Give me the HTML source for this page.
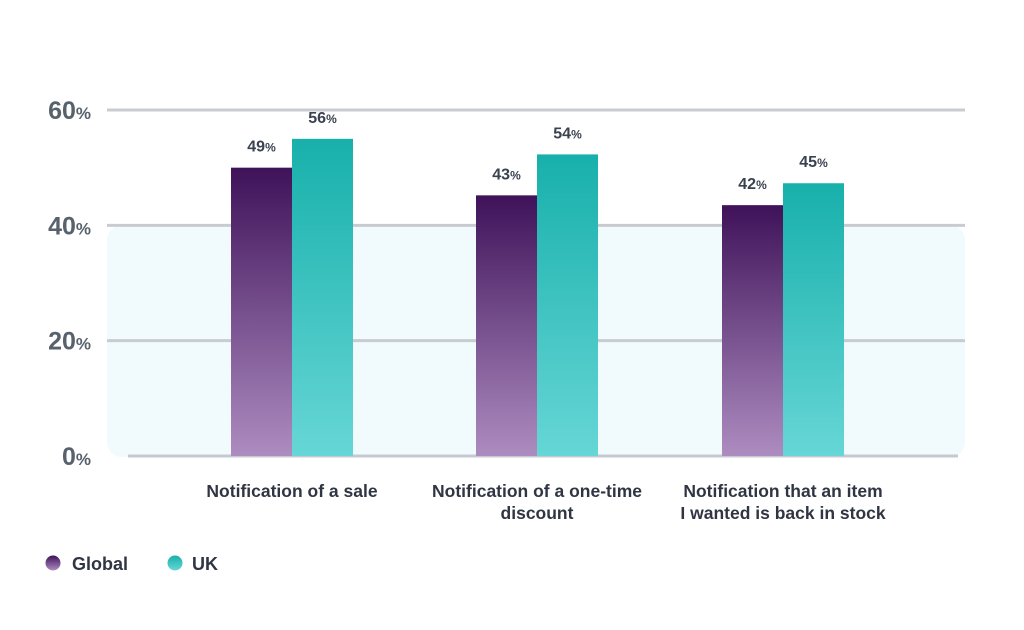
<!DOCTYPE html>
<html><head><meta charset="utf-8"><style>
html,body{margin:0;padding:0;background:#fff;}
svg{display:block;font-family:"Liberation Sans",sans-serif;font-weight:bold;}
</style></head><body>
<svg id="chart" width="1024" height="630" viewBox="0 0 1024 630">
<defs>
<linearGradient id="gG" x1="0" y1="0" x2="0" y2="1"><stop offset="0" stop-color="#3f1259"/><stop offset="1" stop-color="#ad8cc0"/></linearGradient>
<linearGradient id="gU" x1="0" y1="0" x2="0" y2="1"><stop offset="0" stop-color="#18b0ab"/><stop offset="1" stop-color="#66d6d6"/></linearGradient>
</defs>
<rect x="107" y="225" width="858" height="232" rx="15" fill="#f1fafc"/>
<g id="grid"></g>
<g id="bars"></g>
<g id="labels"></g>
<g>
<circle cx="53" cy="563" r="7.5" fill="url(#gG)"/>
<text x="72" y="570" font-size="18" fill="#2f3542">Global</text>
<circle cx="175" cy="563" r="7.5" fill="url(#gU)"/>
<text x="192" y="570" font-size="18" fill="#2f3542">UK</text>
</g>
</svg>
<script>
const categories=[["Notification of a sale"],["Notification of a one-time","discount"],["Notification that an item","I wanted is back in stock"]];
const globalValues=[50,45.2,43.5];
const ukValues=[55,52.3,47.3];
const globalLabels=["49","43","42"];
const ukLabels=["56","54","45"];
const yTicks=[0,20,40,60];

const NS="http://www.w3.org/2000/svg";
const y0=456, pxPer=(456-110)/60;
const yScale=v=>y0-v*pxPer;
const groupCenters=[292,537,783], barW=61;
function mk(tag,attrs,parent){const e=document.createElementNS(NS,tag);for(const k in attrs)e.setAttribute(k,attrs[k]);parent.appendChild(e);return e;}
const grid=document.getElementById('grid'),bars=document.getElementById('bars'),labels=document.getElementById('labels');
yTicks.forEach(t=>{
  const y=yScale(t);
  const l=mk('line',t===0?{x1:128,x2:958,y1:y,y2:y,stroke:"#c5cad0","stroke-width":3}:{x1:107,x2:965,y1:y,y2:y,stroke:"#c8ccd2","stroke-width":3},grid);
  
  
  const tx=mk('text',{x:91,y:y+9,"text-anchor":"end","font-size":25,fill:"#58626d"},grid);
  
  
  tx.innerHTML=t+'<tspan font-size="17">%</tspan>';
});
categories.forEach((c,i)=>{
  const cx=groupCenters[i];
  [[globalValues,globalLabels,"url(#gG)",cx-barW,"global"],[ukValues,ukLabels,"url(#gU)",cx,"uk"]].forEach(([vals,labs,fill,x,nm])=>{
    const top=yScale(vals[i]);
    const r=mk('rect',{x:x,y:top,width:barW,height:y0-top,fill:fill},bars);
    
    
    const t=mk('text',{x:x+barW/2,y:top-16,"text-anchor":"middle","font-size":16,fill:"#3a4250"},labels);
    
    
    t.innerHTML=labs[i]+'<tspan font-size="12">%</tspan>';
  });
  c.forEach((line,j)=>{
    const t=mk('text',{x:cx,y:497+j*22,"text-anchor":"middle","font-size":17.5,fill:"#2f3542"},labels);
    
    
    t.textContent=line;
  });
});
</script>
</body></html>
